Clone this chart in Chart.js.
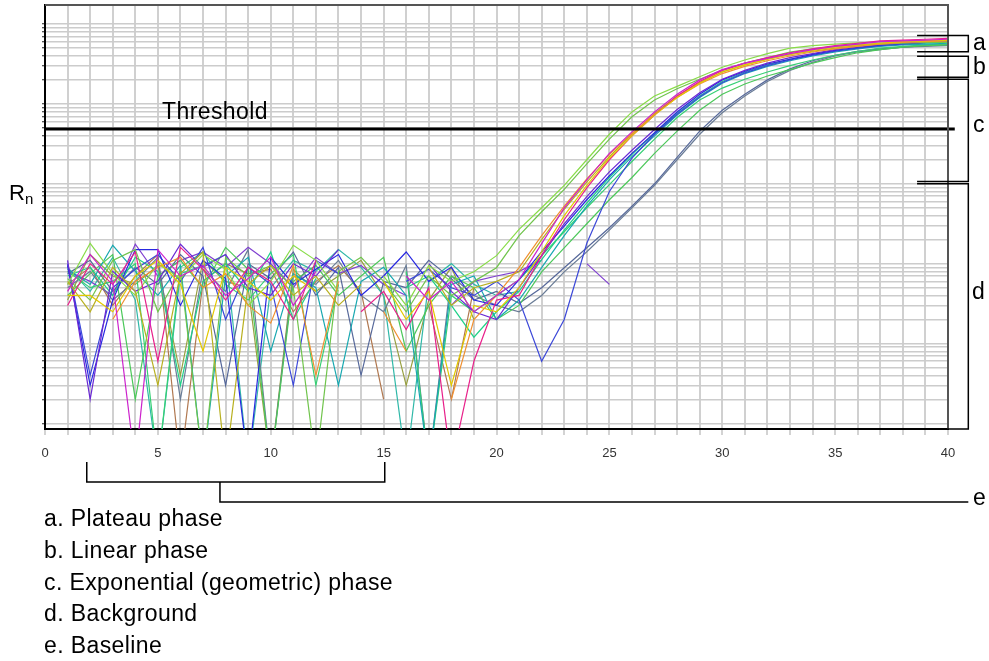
<!DOCTYPE html>
<html>
<head>
<meta charset="utf-8">
<script src="https://cdn.jsdelivr.net/npm/chart.js@4.4.1/dist/chart.umd.min.js"></script>
<style>
    body { margin: 0; background: #fff; overflow: hidden; }
    #wrap { position: relative; width: 989px; height: 661px; }
    .lbl {
        position: absolute;
        font: 23px/23px "Liberation Sans", Arial, sans-serif;
        letter-spacing: 0.4px;
        color: #000;
        white-space: nowrap;
    }
</style>
</head>
<body>
<div id="wrap">
    <canvas id="ampChart" width="989" height="661"></canvas>
    <div class="lbl" style="left:9px; top:181.5px; font-size:22px; line-height:22px;">R</div>
    <div class="lbl" style="left:25px; top:191px; font-size:15px; line-height:15px;">n</div>
    <div class="lbl" style="left:162px; top:99.5px;">Threshold</div>
    <div class="lbl" style="left:973px; top:30.5px;">a</div>
    <div class="lbl" style="left:973px; top:54.5px;">b</div>
    <div class="lbl" style="left:973px; top:113px;">c</div>
    <div class="lbl" style="left:972px; top:279.5px;">d</div>
    <div class="lbl" style="left:973px; top:485.5px;">e</div>
    <div class="lbl" style="left:44px; top:507px;">a. Plateau phase</div>
    <div class="lbl" style="left:44px; top:538.8px;">b. Linear phase</div>
    <div class="lbl" style="left:44px; top:570.5px;">c. Exponential (geometric) phase</div>
    <div class="lbl" style="left:44px; top:602.2px;">d. Background</div>
    <div class="lbl" style="left:44px; top:633.5px;">e. Baseline</div>
</div>

<script>
// cycles on the x axis
const cycles = [1,2,3,4,5,6,7,8,9,10,11,12,13,14,15,16,17,18,19,20,
                21,22,23,24,25,26,27,28,29,30,31,32,33,34,35,36,37,38,39,40];
const xTicks = [0, 5, 10, 15, 20, 25, 30, 35, 40];

// Rn per cycle (log axis, arbitrary units), null = value not drawn
const magenta1 = [45,130,60,0.3,150,70,95,40,65,120,30,80,null,null,null,70,35,60,25,40,
    63,178,500,1120,2400,4470,7940,13200,20000,26900,32400,37200,42700,47900,52500,56200,60300,61700,63100,64600];
const yellow1 = [40,40,25,70,110,55,8,90,60,35,70,45,null,null,60,20,45,3,30,25,
    50,141,400,955,2090,3980,7240,12000,18200,25100,30900,36300,41700,46800,51300,55000,57500,60300,61700,63100];
const orange1 = [null,null,20,60,90,120,50,75,30,18,95,4,60,null,25,8,null,2,20,40,
    89,224,525,1150,2340,4270,7410,12000,17800,24000,29500,34700,39800,44700,49000,52500,56200,58900,60300,61700];
const pink1 = [30,100,55,140,6,160,85,35,90,60,20,110,null,25,45,15,50,0.3,6,35,
    40,126,355,891,2000,3980,7240,12600,19100,26300,32400,38000,43700,49000,53700,57500,61700,63100,64600,66100];
const olive1 = [60,25,90,45,3,75,140,0.3,55,95,40,70,30,55,null,null,90,30,50,60,
    79,200,480,1050,2190,4170,7590,12600,18600,25100,30900,36300,41700,45700,50100,53700,57500,60300,61700,63100];
const blue1 = [95,3,35,150,150,30,110,65,0.3,120,55,85,130,40,70,140,60,90,35,30,
    63,141,295,631,1260,2400,4370,7940,13200,20000,25700,31600,36300,41700,46800,51300,55000,57500,58900,60300];
const purple1 = [110,2,80,45,60,175,90,130,50,40,100,70,150,null,null,null,100,45,25,20,
    50,126,316,692,1410,2630,4790,8510,13800,20400,26300,32400,38000,42700,47900,52500,56200,58900,60300,61700];
const teal1 = [85,55,170,80,40,95,0.3,70,120,8,75,50,3,60,90,40,0.3,55,70,20,
    35,89,224,525,1120,2190,3980,7240,12000,18200,24000,29500,34700,39800,44700,49000,52500,55000,56200,57500];
const sea1 = [70,90,40,120,80,3,60,100,45,140,20,65,null,null,null,50,70,30,12,25,
    45,112,263,575,1200,2340,4270,7590,12600,19100,25100,30900,36300,40700,45700,50100,53700,56200,57500,58900];
const blue2 = [100,4,50,85,130,60,160,20,90,55,3,110,75,null,null,60,85,50,40,60,
    35,6,20,180,800,2100,4170,7410,12300,18600,24500,30200,35500,40700,45700,50100,53700,56200,58900,60300];
const lime1 = [55,180,75,40,100,65,130,85,30,60,170,110,45,null,70,30,95,60,79,126,
    269,501,955,2000,4170,7940,12600,16600,21900,28800,35500,42700,50100,53700,56200,58200,59600,60300,61000,61700];
const lime2 = [65,35,110,150,25,80,0.3,120,70,95,50,0.3,80,120,60,25,70,40,60,89,
    224,447,851,1780,3630,6920,11200,15500,20400,26300,32400,38000,44700,49000,52500,55000,56200,57500,58900,58900];
const green1 = [40,75,130,2,70,110,50,160,85,0.3,60,95,40,70,120,8,30,70,50,20,
    30,79,158,316,631,1200,2400,4570,8320,13200,17800,22400,26900,32400,38000,43700,47900,51300,53700,55000];
const green2 = [80,50,60,100,0.3,90,140,55,35,75,130,3,55,null,null,80,0.3,40,25,40,
    63,126,251,501,977,1900,3630,6760,11200,15800,20400,25100,30200,35500,40700,45700,50100,52500,55000,56200];
const slate1 = [75,110,45,90,55,130,70,3,100,65,140,40,90,4,60,50,110,65,35,45,
    32,50,89,158,282,525,1000,2140,4570,8320,13200,20000,27500,34700,40700,45700,49000,51300,53700,55000];
const slate2 = [50,80,35,60,120,2,85,45,150,0.3,70,55,110,40,25,95,0.3,70,40,30,
    25,40,79,141,263,501,955,2000,4170,7760,12600,19100,26300,33100,39800,44700,47900,51300,52500,53700];
// wells that never amplify
const violet1 = [80,60,40,175,70,110,140,90,160,100,50,120,75,95,55,40,null,30,60,70,
    80,110,null,100,55,null,null,null,null,null,null,null,null,null,null,null,null,null,null,null];
const brown1 = [55,90,30,70,130,0.3,60,100,75,85,25,60,95,45,2,null,30,2,50,null,
    null,null,null,null,null,null,null,null,null,null,null,null,null,null,null,null,null,null,null,null];
const aqua1 = [90,45,120,35,0.3,75,95,130,0.3,50,110,80,150,90,40,0.3,60,100,55,40,
    45,null,null,null,null,null,null,null,null,null,null,null,null,null,null,null,null,null,null,null];
const khaki1 = [35,130,70,55,95,4,110,60,50,0.3,85,45,70,110,40,3,35,90,20,null,
    null,null,null,null,null,null,null,null,null,null,null,null,null,null,null,null,null,null,null,null];

const threshold = 4850;
const yMin = 0.853;
const yMax = 173300;
const decades = [1, 10, 100, 1000, 10000, 100000];
const gridSteps = [1, 2, 3, 4, 5, 6, 7, 8, 9];

// phase brackets a-d (top / bottom in Rn) and baseline cycles (e)
const phaseTops = [71700, 39600, 20400, 1000];
const phaseBottoms = [45000, 21600, 1070, yMin];
const baselineCycles = [1.85, 15.05];

const curves = [magenta1, yellow1, pink1, orange1, olive1, lime1, lime2, purple1, blue1, blue2,
    teal1, sea1, green1, green2, slate1, slate2, violet1, brown1, aqua1, khaki1];
const curveColors = ['#cc22cc', '#e2c800', '#e8208a', '#f09030', '#b8b020', '#88dc48', '#70c44c',
    '#6a28d4', '#2828e0', '#3c48d8', '#18a8b0', '#20d088', '#4cc85a', '#36d074', '#56689a', '#6a7c96',
    '#8040d0', '#b07850', '#30b8a8', '#98a040'];

const phasePlugin = {
    id: 'phases',
    afterDraw(chart) {
        const { ctx, chartArea: area, scales: { x, y } } = chart;
        ctx.save();
        // moldura de cima e da direita
        ctx.strokeStyle = '#555';
        ctx.lineWidth = 2;
        ctx.beginPath();
        ctx.moveTo(area.left, area.top);
        ctx.lineTo(area.right, area.top);
        ctx.lineTo(area.right, area.bottom);
        ctx.stroke();

        ctx.strokeStyle = '#000';
        ctx.lineWidth = 1.5;
        const x0 = x.getPixelForValue(38.63);
        const x1 = x.getPixelForValue(40.9);
        phaseTops.forEach((top, i) => {
            const yt = y.getPixelForValue(top);
            const yb = y.getPixelForValue(phaseBottoms[i]);
            ctx.beginPath();
            ctx.moveTo(x0, yt);
            ctx.lineTo(x1, yt);
            ctx.lineTo(x1, yb);
            ctx.lineTo(x0, yb);
            ctx.stroke();
        });

        // baseline bracket
        const bx0 = x.getPixelForValue(baselineCycles[0]);
        const bx1 = x.getPixelForValue(baselineCycles[1]);
        const bm = x.getPixelForValue(7.75);
        const b = area.bottom;
        ctx.beginPath();
        ctx.moveTo(bx0, b + 33);
        ctx.lineTo(bx0, b + 53);
        ctx.lineTo(bx1, b + 53);
        ctx.lineTo(bx1, b + 33);
        ctx.moveTo(bm, b + 53);
        ctx.lineTo(bm, b + 73);
        ctx.lineTo(x1, b + 73);
        ctx.stroke();
        ctx.restore();
    }
};

function criarGrafico() {
    const ctx = document.getElementById('ampChart').getContext('2d');

    const gridValues = [];
    decades.forEach(d => gridSteps.forEach(s => {
        if (d * s <= yMax) gridValues.push(d * s);
    }));

    const datasets = curves.map((vals, i) => ({
        data: vals.map((v, j) => ({ x: cycles[j], y: v })),
        borderColor: curveColors[i],
        borderWidth: 1.2,
        pointRadius: 0,
        tension: 0,
        spanGaps: false
    }));

    datasets.unshift({
        data: [{ x: 0, y: threshold }, { x: 40.3, y: threshold }],
        borderColor: '#000',
        borderWidth: 3,
        pointRadius: 0,
        clip: false,
        order: -1
    });

    new Chart(ctx, {
        type: 'line',
        data: { datasets },
        options: {
            responsive: false,
            animation: false,
            events: [],
            layout: { padding: { left: 42, right: 41, top: 5, bottom: 188.5 } },
            plugins: { legend: { display: false }, tooltip: { enabled: false } },
            scales: {
                x: {
                    type: 'linear',
                    min: 0,
                    max: 40,
                    grid: { color: '#d0d0d0', lineWidth: 2, tickLength: 6, tickColor: '#c4c4c4', tickWidth: 1.5 },
                    border: { color: '#000', width: 2 },
                    ticks: {
                        stepSize: 1,
                        maxTicksLimit: 41,
                        autoSkip: false,
                        maxRotation: 0,
                        padding: 11,
                        color: '#333',
                        font: { family: '"Liberation Sans", Arial, sans-serif', size: 13 },
                        callback: v => xTicks.includes(v) ? String(v) : ''
                    }
                },
                y: {
                    type: 'logarithmic',
                    min: yMin,
                    max: yMax,
                    bounds: 'data',
                    afterBuildTicks: scale => {
                        scale.ticks = gridValues.map(v => ({ value: v }));
                    },
                    grid: { color: '#cccccc', lineWidth: 1.5, tickLength: 3, tickColor: '#222', tickWidth: 1 },
                    border: { color: '#000', width: 2 },
                    ticks: { display: false }
                }
            }
        },
        plugins: [phasePlugin]
    });
}

document.addEventListener('DOMContentLoaded', () => {
    criarGrafico();
});
</script>
</body>
</html>
